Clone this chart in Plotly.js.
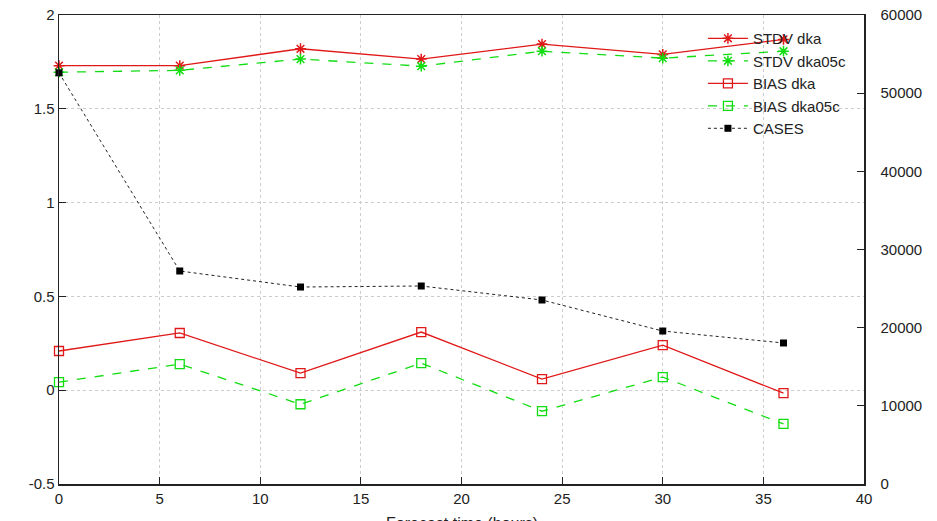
<!DOCTYPE html>
<html>
<head>
<meta charset="utf-8">
<script src="https://cdn.plot.ly/plotly-3.0.1.min.js"></script>
<style>html,body{margin:0;padding:0;background:#fff;}#chart{width:937px;height:521px;}</style>
</head>
<body>
<div id="chart"></div>
<script>
const leadTimes = [0, 6, 12, 18, 24, 30, 36];
const stdvDka     = [1.73, 1.73, 1.82, 1.765, 1.845, 1.79, 1.87];
const stdvDka05c  = [1.695, 1.705, 1.765, 1.727, 1.807, 1.77, 1.807];
const biasDka     = [0.209, 0.305, 0.091, 0.31, 0.059, 0.24, -0.016];
const biasDka05c  = [0.043, 0.139, -0.075, 0.144, -0.112, 0.07, -0.18];
const cases       = [52600, 27250, 25200, 25330, 23540, 19570, 18040];

const xTitle = "Forecast time (hours)";
const xTicks = [0, 5, 10, 15, 20, 25, 30, 35, 40];
const yTicks = [-0.5, 0, 0.5, 1, 1.5, 2];
const yTickLabels = ["-0.5", "0", "0.5", "1", "1.5", "2"];
const y2Ticks = [0, 10000, 20000, 30000, 40000, 50000, 60000];
const y2TickLabels = ["0", "10000", "20000", "30000", "40000", "50000", "60000"];

const RED = "#e01818";
const GREEN = "#11dd11";
const FONT = "Liberation Sans, Arial, sans-serif";

const traces = [
  {x: leadTimes, y: stdvDka, name: "STDV dka", type: "scatter", mode: "lines+markers",
   line: {color: RED, width: 1.3}, marker: {symbol: "asterisk-open", size: 9, color: RED, line: {color: RED, width: 1.5}}, cliponaxis: false},
  {x: leadTimes, y: stdvDka05c, name: "STDV dka05c", type: "scatter", mode: "lines+markers",
   line: {color: GREEN, width: 1.3, dash: "dash"}, marker: {symbol: "asterisk-open", size: 9, color: GREEN, line: {color: GREEN, width: 1.5}}, cliponaxis: false},
  {x: leadTimes, y: biasDka, name: "BIAS dka", type: "scatter", mode: "lines+markers",
   line: {color: RED, width: 1.3}, marker: {symbol: "square-open", size: 9, color: RED, line: {color: RED, width: 1.3}}, cliponaxis: false},
  {x: leadTimes, y: biasDka05c, name: "BIAS dka05c", type: "scatter", mode: "lines+markers",
   line: {color: GREEN, width: 1.3, dash: "dash"}, marker: {symbol: "square-open", size: 9, color: GREEN, line: {color: GREEN, width: 1.3}}, cliponaxis: false},
  {x: leadTimes, y: cases, name: "CASES", type: "scatter", mode: "lines+markers", yaxis: "y2",
   line: {color: "#222", width: 1, dash: "dot"}, marker: {symbol: "square", size: 7, color: "#000"}, cliponaxis: false}
];

const layout = {
  width: 937, height: 521,
  margin: {l: 59, r: 73, t: 15, b: 37},
  paper_bgcolor: "#fff", plot_bgcolor: "#fff",
  font: {family: FONT, size: 15, color: "#222"},
  showlegend: true,
  legend: {x: 0.985, y: 0.985, xanchor: "right", yanchor: "top", bgcolor: "rgba(0,0,0,0)",
           font: {family: FONT, size: 15, color: "#222"}, tracegroupgap: 0, itemwidth: 40},
  xaxis: {range: [0, 40], tickvals: xTicks, ticktext: xTicks.map(String),
          showline: true, linecolor: "#222", linewidth: 1.5, mirror: true,
          ticks: "inside", ticklen: 7, tickcolor: "#222",
          showgrid: true, gridcolor: "#cccccc", griddash: "dot", gridwidth: 1, zeroline: false,
          automargin: false},
  yaxis: {range: [-0.5, 2], tickvals: yTicks, ticktext: yTickLabels,
          showline: true, linecolor: "#222", linewidth: 1.5, mirror: false,
          ticks: "inside", ticklen: 7, tickcolor: "#222",
          showgrid: true, gridcolor: "#cccccc", griddash: "dot", gridwidth: 1, zeroline: false,
          automargin: false},
  yaxis2: {range: [0, 60000], tickvals: y2Ticks, ticktext: y2TickLabels, overlaying: "y", side: "right",
           showline: true, linecolor: "#222", linewidth: 1.5,
           ticks: "outside", ticklen: 12, tickcolor: "rgba(0,0,0,0)",
           showgrid: false, zeroline: false, automargin: false},
  yaxis3: {range: [0, 60000], tickvals: y2Ticks, overlaying: "y", side: "right",
           showline: false, showticklabels: false,
           ticks: "inside", ticklen: 7, tickcolor: "#222",
           showgrid: false, zeroline: false, automargin: false},
  annotations: [
    {text: xTitle, xref: "paper", yref: "paper", x: 0.5, y: 0, xanchor: "center", yanchor: "top",
     yshift: -29, showarrow: false, font: {family: FONT, size: 16, color: "#222"}}
  ]
};

// invisible carrier so the inner tick marks of the right axis are drawn
traces.push({x: [], y: [], yaxis: "y3", type: "scatter", showlegend: false, hoverinfo: "skip"});

Plotly.newPlot("chart", traces, layout, {displayModeBar: false, staticPlot: true});
</script>
</body>
</html>
